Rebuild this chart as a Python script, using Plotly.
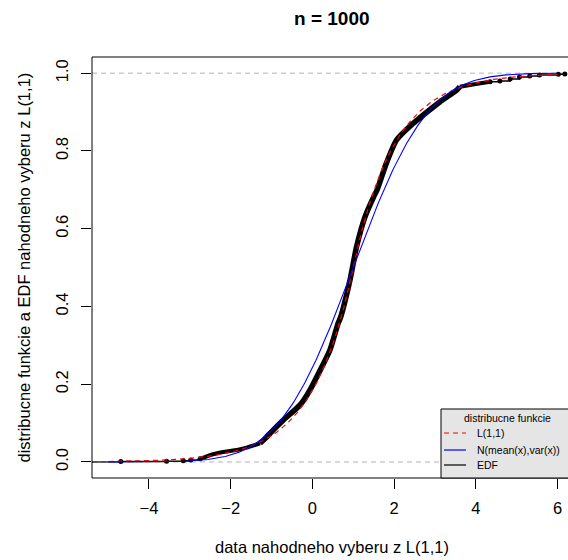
import math
import numpy as np
import plotly.graph_objects as go

# ---------------- data ----------------
N_OBS = 1000
LAPLACE_MU = 1.0
LAPLACE_B = 1.0
NORM_MEAN = 1.00
NORM_SD = 1.43
CURVE_FROM = -5.0
CURVE_TO = 6.0

EDF_LEFT_X = [-4.69, -3.57, -3.16, -2.98]
EDF_LEFT_F = [0.001, 0.002, 0.003, 0.005]
EDF_LOW_X = [-2.75, -2.43, -2.10, -1.85, -1.61, -1.28]
EDF_LOW_F = [0.008, 0.020, 0.027, 0.031, 0.037, 0.048]
EDF_MID_X = [-1.28, -1.16, -0.96, -0.71, -0.30, -0.06, 0.19, 0.43, 0.63, 0.68,
             0.92, 1.08, 1.29, 1.50, 1.58, 1.81, 2.06, 2.47, 2.96, 3.12, 3.53,
             3.61]
EDF_MID_F = [0.048, 0.060, 0.082, 0.108, 0.147, 0.185, 0.236, 0.288, 0.357,
             0.369, 0.468, 0.553, 0.631, 0.682, 0.699, 0.768, 0.828, 0.871,
             0.913, 0.926, 0.956, 0.965]
EDF_HIGH_X = [3.61, 4.00, 4.35]
EDF_HIGH_F = [0.965, 0.972, 0.978]
EDF_RIGHT_X = [4.35, 4.59, 4.84, 5.07, 5.32, 5.56, 6.02, 6.18]
EDF_RIGHT_F = [0.978, 0.980, 0.985, 0.990, 0.993, 0.995, 0.997, 0.998]

X_TICKS = [-4, -2, 0, 2, 4, 6]
Y_TICKS = [0.0, 0.2, 0.4, 0.6, 0.8, 1.0]
Y_TICK_TEXT = ["0.0", "0.2", "0.4", "0.6", "0.8", "1.0"]
X_RANGE = [-5.395, 6.257]
Y_RANGE = [-0.0412, 1.0416]

TITLE = "n = %d" % N_OBS
X_LABEL = "data nahodneho vyberu z L(1,1)"
Y_LABEL = "distribucne funkcie a EDF nahodneho vyberu z L(1,1)"
LEGEND_TITLE = "distribucne funkcie"
LEGEND_LABELS = ["L(1,1)", "N(mean(x),var(x))", "EDF"]

# ---------------- theoretical curves ----------------
grid = np.linspace(CURVE_FROM, CURVE_TO, 401)
lap = np.where(grid < LAPLACE_MU,
               0.5 * np.exp((grid - LAPLACE_MU) / LAPLACE_B),
               1 - 0.5 * np.exp(-(grid - LAPLACE_MU) / LAPLACE_B))
nrm = np.array([0.5 * (1 + math.erf((g - NORM_MEAN) / (NORM_SD * math.sqrt(2)))) for g in grid])

FONT = "Liberation Sans, Arial, Helvetica, sans-serif"
W, H = 568, 560
PL, PT, PR, PB = 92, 57, 568, 478  # plot area in pixels
L, T, R, B = PL, PT, W - PR, H - PB
PW, PH = PR - PL, PB - PT


def px(x):
    return (x - PL) / PW


def py(y):
    return (PB - y) / PH


fig = go.Figure()

# EDF
fig.add_trace(go.Scatter(x=[X_RANGE[0], EDF_LEFT_X[0]], y=[0, 0], mode="lines",
                         line=dict(color="black", width=1.2), hoverinfo="skip"))
fig.add_trace(go.Scatter(x=EDF_LEFT_X + [EDF_LOW_X[0]], y=EDF_LEFT_F + [EDF_LOW_F[0]],
                         mode="lines+markers", line=dict(color="black", width=1.5, shape="hv"),
                         marker=dict(color="black", size=5)))
fig.add_trace(go.Scatter(x=EDF_LOW_X, y=EDF_LOW_F, mode="lines",
                         line=dict(color="black", width=4, shape="spline", smoothing=0.6)))
fig.add_trace(go.Scatter(x=EDF_MID_X, y=EDF_MID_F, mode="lines",
                         line=dict(color="black", width=5.5, shape="spline", smoothing=0.6)))
fig.add_trace(go.Scatter(x=EDF_HIGH_X, y=EDF_HIGH_F, mode="lines",
                         line=dict(color="black", width=4, shape="spline", smoothing=0.6)))
fig.add_trace(go.Scatter(x=EDF_RIGHT_X, y=EDF_RIGHT_F, mode="lines+markers",
                         line=dict(color="black", width=1.5, shape="hv"),
                         marker=dict(color="black", size=5)))

# theoretical CDFs
fig.add_trace(go.Scatter(x=grid, y=lap, mode="lines",
                         line=dict(color="#ff0000", width=1.2, dash="5px,4px")))
fig.add_trace(go.Scatter(x=grid, y=nrm, mode="lines",
                         line=dict(color="#0000ff", width=1.1)))

shapes = []
for yv in (0, 1):
    shapes.append(dict(type="line", xref="paper", yref="y", x0=0, x1=1, y0=yv, y1=yv,
                       line=dict(color="#b3b3b3", width=1, dash="5px,4px"), layer="below"))
shapes.append(dict(type="rect", xref="paper", yref="paper", x0=0, x1=px(572), y0=0, y1=1,
                   line=dict(color="black", width=1), fillcolor="rgba(0,0,0,0)", layer="above"))
shapes.append(dict(type="rect", xref="paper", yref="paper", x0=px(441), x1=px(576),
                   y0=py(478), y1=py(409), line=dict(color="black", width=1),
                   fillcolor="#e5e5e5", layer="above"))
leg_y = [433, 450, 465]
leg_styles = [dict(color="#ff0000", width=1.2, dash="5px,4px"),
              dict(color="#0000ff", width=1.2),
              dict(color="black", width=1.2)]
for yy, st in zip(leg_y, leg_styles):
    shapes.append(dict(type="line", xref="paper", yref="paper", x0=px(444), x1=px(466),
                       y0=py(yy), y1=py(yy), line=st, layer="above"))

annotations = [
    dict(text="<b>%s</b>" % TITLE, xref="paper", yref="paper", x=px(332), y=py(19),
         showarrow=False, xanchor="center", yanchor="middle", font=dict(size=19, color="black")),
    dict(text=X_LABEL, xref="paper", yref="paper", x=px(332), y=py(547), showarrow=False,
         xanchor="center", yanchor="middle", font=dict(size=16.5, color="black")),
    dict(text=Y_LABEL, xref="paper", yref="paper", x=px(23), y=py(267.5), showarrow=False,
         textangle=-90, xanchor="center", yanchor="middle", font=dict(size=16.5, color="black")),
    dict(text=LEGEND_TITLE, xref="paper", yref="paper", x=px(507), y=py(418), showarrow=False,
         xanchor="center", yanchor="middle", font=dict(size=10.5, color="black")),
]
for yy, lab in zip(leg_y, LEGEND_LABELS):
    annotations.append(dict(text=lab, xref="paper", yref="paper", x=px(475), y=py(yy),
                            showarrow=False, xanchor="left", yanchor="middle",
                            font=dict(size=10.5, color="black")))

fig.update_layout(
    width=W, height=H,
    margin=dict(l=L, r=R, t=T, b=B, pad=0),
    paper_bgcolor="white", plot_bgcolor="white",
    font=dict(family=FONT, color="black", size=16.5),
    showlegend=False,
    shapes=shapes, annotations=annotations,
    xaxis=dict(range=X_RANGE, tickvals=X_TICKS, ticks="outside", ticklen=10,
               tickcolor="black", tickwidth=1, showgrid=False, zeroline=False,
               showline=False, ticklabelstandoff=5, tickfont=dict(size=16.5)),
    yaxis=dict(range=Y_RANGE, tickvals=Y_TICKS, ticktext=Y_TICK_TEXT, ticks="outside",
               ticklen=10, tickcolor="black", tickwidth=1, showgrid=False, zeroline=False,
               showline=False, tickangle=-90, ticklabelstandoff=6, tickfont=dict(size=16.5)),
)

fig.write_html(
    "out.html",
    config={"displayModeBar": False, "staticPlot": True},
    post_script="document.body.style.margin='0';document.body.style.overflow='hidden';"
                "document.documentElement.style.overflow='hidden';",
)
